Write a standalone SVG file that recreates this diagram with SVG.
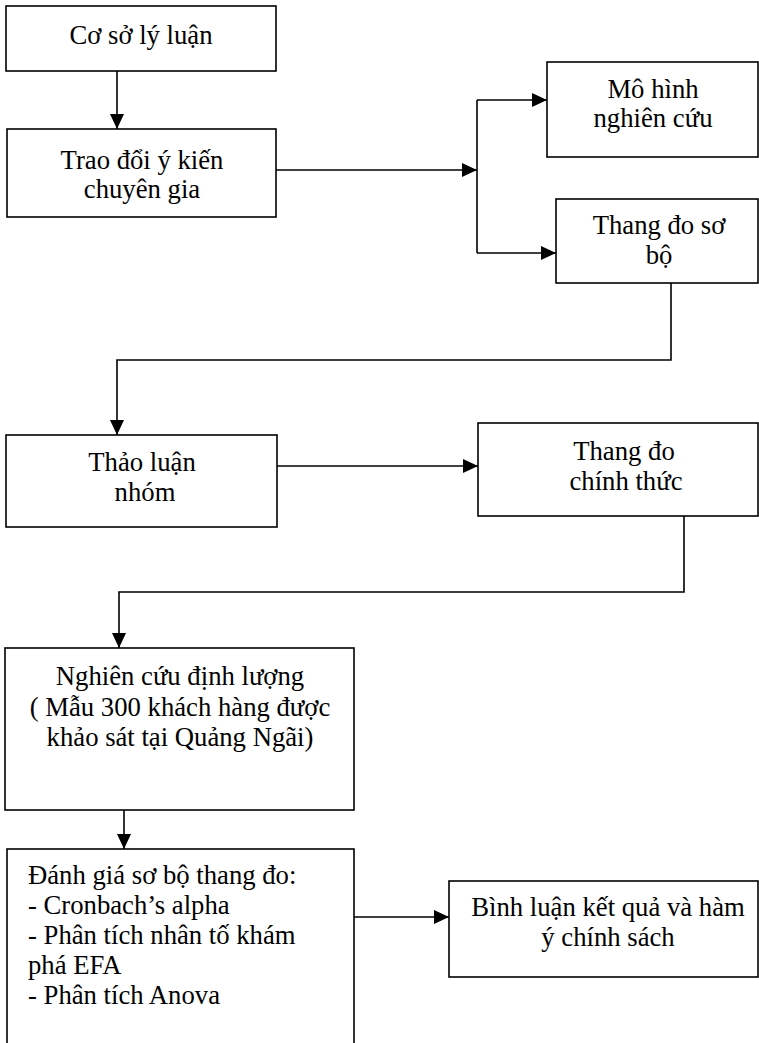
<svg xmlns="http://www.w3.org/2000/svg" width="759" height="1043" viewBox="0 0 759 1043">
<style>
.box{fill:#fff;stroke:#000;stroke-width:1.6}
.t{font-family:'Liberation Serif',serif;font-size:26.7px;fill:#000}
.c{text-anchor:middle}
.ln{fill:none;stroke:#000;stroke-width:1.6}
</style>
<defs>
<marker id="ah" markerUnits="userSpaceOnUse" markerWidth="15" markerHeight="14" viewBox="0 0 15 14" refX="15" refY="7" orient="auto">
<path d="M0,0 L15,7 L0,14 z" fill="#000"/>
</marker>
</defs>
<rect width="759" height="1043" fill="#fff"/>
<g id="connectors">
<path class="ln" d="M117,71 V129" marker-end="url(#ah)"/>
<path class="ln" d="M276,170 H477" marker-end="url(#ah)"/>
<path class="ln" d="M477,100 V253"/>
<path class="ln" d="M477,100 H547" marker-end="url(#ah)"/>
<path class="ln" d="M477,253 H556" marker-end="url(#ah)"/>
<path class="ln" d="M671,283 V360 H117 V435" marker-end="url(#ah)"/>
<path class="ln" d="M277,466 H478" marker-end="url(#ah)"/>
<path class="ln" d="M684,516 V592 H119 V648" marker-end="url(#ah)"/>
<path class="ln" d="M124,810 V849" marker-end="url(#ah)"/>
<path class="ln" d="M354,917 H449" marker-end="url(#ah)"/>
</g>
<g id="n1">
<rect class="box" x="6" y="6" width="270" height="65"/>
<text class="t c" x="141" y="44">Cơ sở lý luận</text>
</g>
<g id="n2">
<rect class="box" x="7" y="129" width="269" height="88"/>
<text class="t c" x="142" y="169">Trao đổi ý kiến</text>
<text class="t c" x="142" y="198">chuyên gia</text>
</g>
<g id="n3">
<rect class="box" x="547" y="62" width="211" height="95"/>
<text class="t c" x="653" y="98">Mô hình</text>
<text class="t c" x="653" y="127">nghiên cứu</text>
</g>
<g id="n4">
<rect class="box" x="556" y="199" width="202" height="84"/>
<text class="t c" x="659" y="234">Thang đo sơ</text>
<text class="t c" x="659" y="264">bộ</text>
</g>
<g id="n5">
<rect class="box" x="6" y="435" width="271" height="92"/>
<text class="t c" x="142" y="471">Thảo luận</text>
<text class="t c" x="145" y="501">nhóm</text>
</g>
<g id="n6">
<rect class="box" x="478" y="423" width="280" height="93"/>
<text class="t c" x="624" y="460">Thang đo</text>
<text class="t c" x="626" y="490">chính thức</text>
</g>
<g id="n7">
<rect class="box" x="5" y="648" width="349" height="162"/>
<text class="t c" x="180" y="685">Nghiên cứu định lượng</text>
<text class="t c" x="180" y="716">( Mẫu 300 khách hàng được</text>
<text class="t c" x="180" y="746">khảo sát tại Quảng Ngãi)</text>
</g>
<g id="n8">
<rect class="box" x="7" y="849" width="347" height="210"/>
<text class="t" x="28" y="884">Đánh giá sơ bộ thang đo:</text>
<text class="t" x="28" y="914">- Cronbach’s alpha</text>
<text class="t" x="28" y="944">- Phân tích nhân tố khám</text>
<text class="t" x="28" y="974">phá EFA</text>
<text class="t" x="28" y="1004">- Phân tích Anova</text>
</g>
<g id="n9">
<rect class="box" x="449" y="881" width="309" height="96"/>
<text class="t c" x="608" y="916">Bình luận kết quả và hàm</text>
<text class="t c" x="608" y="946">ý chính sách</text>
</g>
</svg>
